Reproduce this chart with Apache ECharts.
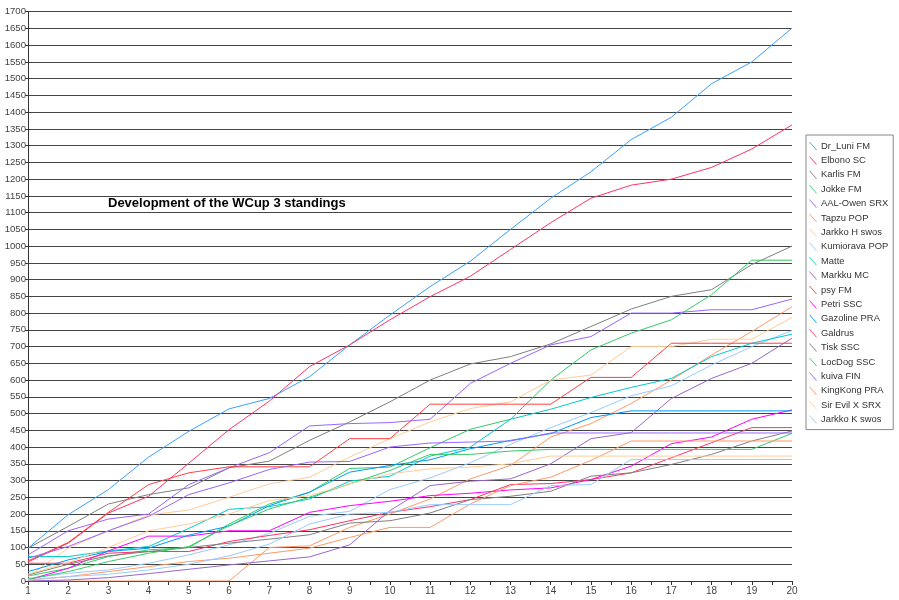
<!DOCTYPE html>
<html><head><meta charset="utf-8">
<script src="https://cdn.jsdelivr.net/npm/echarts@6/dist/echarts.min.js"></script>
<style>html,body{margin:0;padding:0;background:#fff}#c{width:899px;height:600px}</style>
</head><body><div id="c"></div>
<script>
const rounds = [1,2,3,4,5,6,7,8,9,10,11,12,13,14,15,16,17,18,19,20];
const yTicks = {min:0, max:1700, step:50};
const titleText = 'Development of the WCup 3 standings';

const names = ['Dr_Luni FM','Elbono SC','Karlis FM','Jokke FM','AAL-Owen SRX','Tapzu POP','Jarkko H swos','Kumiorava POP','Matte','Markku MC','psy FM','Petri SSC','Gazoline PRA','Galdrus','Tisk SSC','LocDog SSC','kuiva FIN','KingKong PRA','Sir Evil X SRX','Jarkko K swos'];

const drLuni    = [98,198,273,370,447,514,545,610,705,794,879,955,1050,1143,1222,1318,1385,1485,1550,1651];
const elbono    = [57,113,203,253,352,452,537,640,705,780,849,910,990,1070,1143,1182,1200,1235,1290,1362];
const karlis    = [98,163,230,258,278,338,358,420,475,535,600,648,670,708,760,812,850,870,945,1000];
const jokke     = [15,38,73,93,100,170,230,265,336,340,398,453,483,600,690,740,780,855,958,958];
const aalOwen   = [78,150,185,200,288,338,383,463,470,473,483,590,650,705,730,800,800,810,810,842];
const tapzu     = [0,0,0,0,0,0,100,105,160,200,245,305,345,430,470,530,600,675,745,819];
const jarkkoH   = [13,98,150,197,212,250,290,310,370,425,475,515,535,600,615,700,700,722,722,787];
const kumiorava = [8,23,33,53,78,108,142,193,208,273,308,353,408,458,503,553,583,645,700,748];
const matte     = [73,73,90,103,157,214,222,245,298,313,373,400,483,513,548,578,605,670,710,737];
const markku    = [0,3,10,22,35,48,60,72,108,210,285,298,305,350,425,443,545,605,650,725];
const psy       = [60,115,205,288,323,341,341,341,425,425,528,528,528,528,608,608,710,710,710,710];
const petri     = [3,38,90,134,134,150,150,205,225,238,255,262,272,278,303,343,410,430,483,511];
const gazoline  = [28,63,88,98,137,164,225,265,325,345,362,395,420,440,488,508,508,508,508,508];
const galdrus   = [53,53,83,88,88,118,136,153,180,205,222,243,288,291,303,323,368,413,458,458];
const tisk      = [18,50,75,88,100,113,125,138,173,180,203,243,253,268,313,323,348,378,418,448];
const locDog    = [5,28,58,83,103,165,215,250,290,330,378,378,388,393,393,393,393,393,393,441];
const kuiva     = [68,103,150,193,258,293,333,355,357,400,412,415,418,442,442,442,442,442,442,442];
const kingKong  = [3,13,28,43,58,68,83,98,130,160,160,230,285,310,360,418,418,418,418,418];
const sirEvil   = [20,55,100,150,170,200,240,255,290,320,335,340,350,373,373,373,373,373,373,373];
const jarkkoK   = [3,13,20,33,50,75,110,170,200,205,228,228,228,285,288,363,363,363,363,363];

const allValues = [drLuni,elbono,karlis,jokke,aalOwen,tapzu,jarkkoH,kumiorava,matte,markku,psy,petri,gazoline,galdrus,tisk,locDog,kuiva,kingKong,sirEvil,jarkkoK];
const colors = ['#3aa0ff','#ff3366','#808080','#33cc66','#9966ff','#ff9966','#ffcc99','#99ccff','#00cccc','#9966cc','#ff4040','#ff00ff','#0099ff','#ff3366','#808080','#33cc66','#9966ff','#ff9966','#ffcc99','#99ccff'];

const chart = echarts.init(document.getElementById('c'), null, {renderer:'canvas'});
const FONT = 'Liberation Sans, Arial, sans-serif';
chart.setOption({
  animation:false,
  backgroundColor:'#fff',
  color: colors,
  title:{text:titleText, left:108, top:197, padding:0, textStyle:{fontSize:13, fontWeight:'bold', color:'#000', fontFamily:FONT}},
  legend:{
    orient:'vertical', left:806, top:135, itemGap:4.4, itemWidth:8, itemHeight:10,
    icon:'path://M0,0 L1.2,0 L10,10 L8.8,10 Z',
    borderColor:'#888', borderWidth:1, padding:[6,5,5,3], backgroundColor:'#fff',
    textStyle:{fontSize:9.4, lineHeight:10, color:'#333', fontFamily:FONT, padding:[0,0,0,-1]},
    data:names
  },
  grid:{left:28, right:107, top:11.7, bottom:19, containLabel:false},
  xAxis:{type:'value', min:1, max:20, interval:0.5,
    axisLine:{lineStyle:{color:'#333'}},
    axisTick:{show:true, length:4, lineStyle:{color:'#333'}},
    axisLabel:{fontSize:10, color:'#444', fontFamily:FONT, margin:5, formatter:v=>Number.isInteger(v)?String(v):''},
    splitLine:{show:false}},
  yAxis:{type:'value', min:yTicks.min, max:yTicks.max, interval:yTicks.step,
    axisLine:{show:true, lineStyle:{color:'#333'}},
    axisTick:{show:true, length:3, lineStyle:{color:'#333'}},
    axisLabel:{fontSize:9.6, color:'#444', fontFamily:FONT, margin:2, formatter:v=>String(v)},
    splitLine:{lineStyle:{color:'#444', width:1}}},
  series: names.map((n,i)=>({
    name:n, type:'line', symbol:'none', smooth:false,
    lineStyle:{width:1, color:colors[i]}, itemStyle:{color:colors[i]},
    data: rounds.map((r,j)=>[r, allValues[i][j]])
  }))
});
</script></body></html>
